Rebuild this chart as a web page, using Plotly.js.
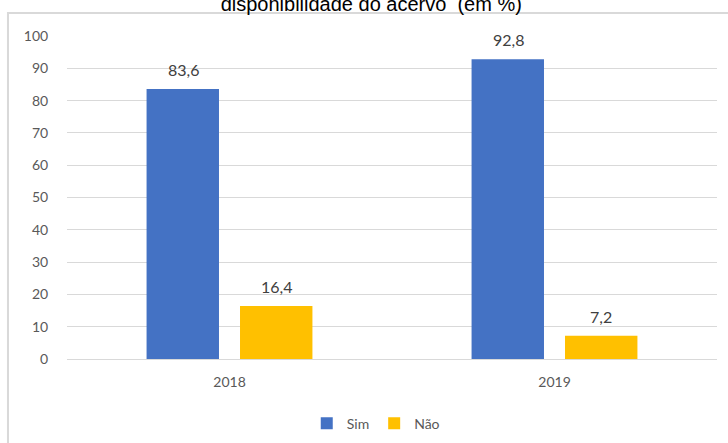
<!DOCTYPE html>
<html>
<head>
<meta charset="utf-8">
<script src="https://cdn.plot.ly/plotly-3.0.1.min.js"></script>
<style>
html,body{margin:0;padding:0;background:#fff;}
#chart{width:728px;height:443px;}
</style>
</head>
<body>
<div id="chart"></div>
<script>
const categories = ["2018", "2019"];
const seriesNames = ["Sim", "Não"];
const simValues = [83.6, 92.8];
const naoValues = [16.4, 7.2];
const yTicks = [0, 10, 20, 30, 40, 50, 60, 70, 80, 90, 100];
const titleText = "disponibilidade do acervo  (em %)";

const labelFont = {family: "Lato, 'Open Sans', sans-serif", size: 16, color: "#404040"};

const traces = [
  {type: "bar", name: seriesNames[0], x: categories, y: simValues,
   marker: {color: "#4472C4"}, hoverinfo: "skip"},
  {type: "bar", name: seriesNames[1], x: categories, y: naoValues,
   marker: {color: "#FFC000"}, hoverinfo: "skip"}
];

const fmt = v => v.toFixed(1).replace(".", ",");
const annotations = [];
[[simValues, -46.5], [naoValues, 46.5]].forEach(([vals, shift]) => {
  vals.forEach((v, i) => annotations.push({
    x: i, y: v, xref: "x", yref: "y", text: fmt(v),
    showarrow: false, xanchor: "center", yanchor: "bottom",
    xshift: shift, yshift: 8, font: labelFont
  }));
});

const layout = {
  width: 728, height: 443,
  margin: {l: 67, r: 11, t: 36, b: 84, autoexpand: false},
  paper_bgcolor: "#ffffff", plot_bgcolor: "#ffffff",
  separators: ",.",
  font: {family: "Lato, 'Open Sans', sans-serif", size: 14, color: "#595959"},
  title: {
    text: titleText,
    font: {family: "Liberation Sans, Arial, sans-serif", size: 20, color: "#000000"},
    x: 0.51, xanchor: "center", xref: "container",
    y: 0.99, yanchor: "middle", yref: "container", pad: {t: 0, b: 0}
  },
  barmode: "group", bargap: 0.425, bargroupgap: 0.225,
  xaxis: {
    type: "category", showgrid: false, zeroline: false, showline: false,
    ticks: "outside", ticklen: 10, tickcolor: "rgba(0,0,0,0)",
    tickfont: {size: 14, color: "#595959"}
  },
  yaxis: {
    range: [0, 100], tickvals: yTicks, showgrid: true, gridcolor: "#d9d9d9", gridwidth: 1,
    zeroline: true, zerolinecolor: "#d9d9d9", zerolinewidth: 1, showline: false,
    ticks: "outside", ticklen: 15, tickcolor: "rgba(0,0,0,0)",
    tickfont: {size: 14, color: "#595959"}
  },
  showlegend: true,
  legend: {
    orientation: "h", x: 0.475, xanchor: "center", y: -0.2, yanchor: "middle",
    font: {size: 14, color: "#595959"}, itemwidth: 30, traceorder: "normal"
  },
  annotations: annotations,
  shapes: [{
    type: "rect", xref: "paper", yref: "paper",
    x0: -0.0908, x1: 1.2, y0: -0.4, y1: 1.0712,
    line: {color: "#d9d9d9", width: 2}, fillcolor: "rgba(0,0,0,0)", layer: "below"
  }]
};

Plotly.newPlot("chart", traces, layout, {displayModeBar: false, staticPlot: true});
</script>
</body>
</html>
